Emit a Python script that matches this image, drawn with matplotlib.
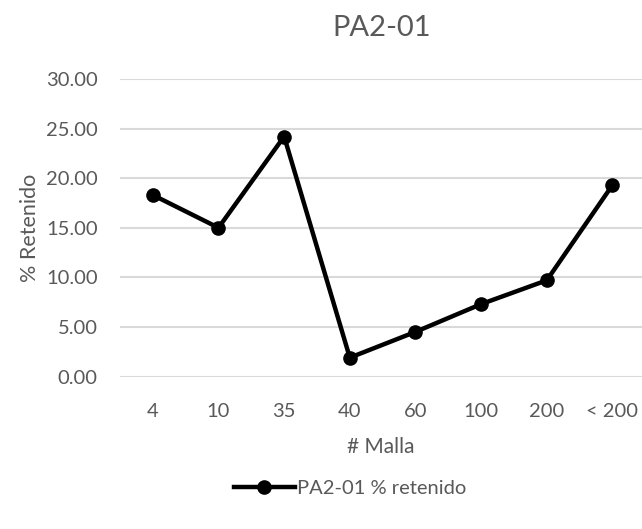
import matplotlib.pyplot as plt
from matplotlib.lines import Line2D

mallas = ["4", "10", "35", "40", "60", "100", "200", "< 200"]
retenido = [18.3, 15.0, 24.2, 1.9, 4.5, 7.3, 9.7, 19.3]
y_ticks = [0, 5, 10, 15, 20, 25, 30]

gris = "#595959"
plt.rcParams["font.family"] = ["Lato", "DejaVu Sans"]

fig = plt.figure(figsize=(6.42, 5.29), dpi=100)
ax = fig.add_axes([120 / 642, 152.5 / 529, 522 / 642, 297.5 / 529])

x = list(range(len(mallas)))
ax.plot(x, retenido, color="black", linewidth=3.2, marker="o",
        markersize=9.5, clip_on=False, zorder=3)

ax.set_xlim(-0.5, 7.45)
ax.set_ylim(0, 30)
ax.set_yticks(y_ticks)
ax.set_yticklabels(["%.2f" % v for v in y_ticks])
ax.set_xticks(x)
ax.set_xticklabels(mallas)
ax.tick_params(length=0, labelsize=14.5, colors=gris)
ax.tick_params(axis="x", pad=19)
ax.tick_params(axis="y", pad=16)
ax.grid(axis="y", color="#d9d9d9", linewidth=1.5)
ax.set_axisbelow(True)
for s in ax.spines.values():
    s.set_visible(False)

ax.set_ylabel("% Retenido", fontsize=15.5, color=gris, labelpad=4)
ax.set_xlabel("# Malla", fontsize=15, color=gris, labelpad=12)
fig.suptitle("PA2-01", fontsize=21, color=gris, x=382 / 642, y=1 - 28 / 529, va="center")

handle = Line2D([], [], color="black", linewidth=3.2, marker="o", markersize=9.5)
fig.legend([handle], ["PA2-01 % retenido"], loc="center", bbox_to_anchor=(350 / 642, 1 - 488 / 529),
           frameon=False, fontsize=14.5, labelcolor=gris, handlelength=3.0, handletextpad=0.1)

fig.savefig("out.png", dpi=100)
